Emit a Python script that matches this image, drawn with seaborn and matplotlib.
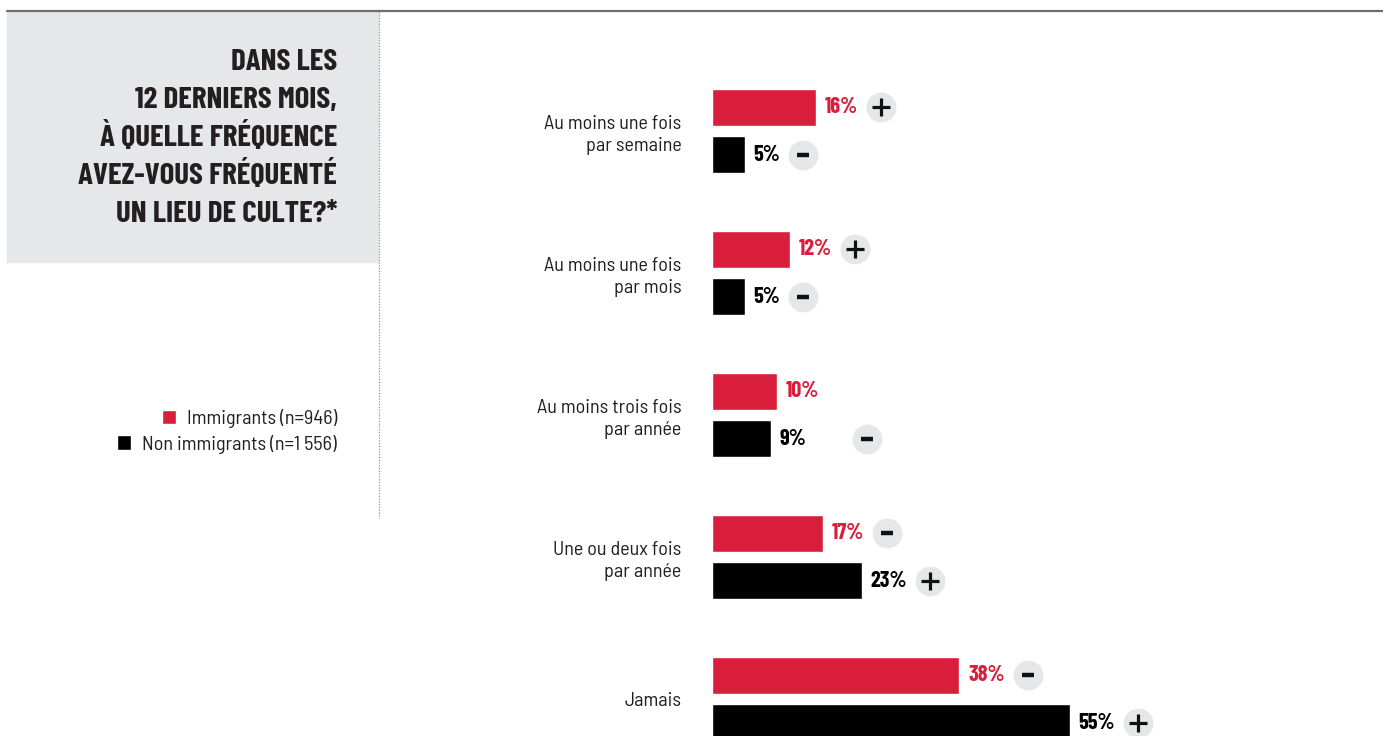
import matplotlib
matplotlib.use("Agg")
import matplotlib.pyplot as plt
import pandas as pd
import seaborn as sns
from matplotlib import font_manager
from matplotlib.lines import Line2D
from matplotlib.patches import Rectangle

# Data
frequences = ["Au moins une fois\npar semaine", "Au moins une fois\npar mois",
              "Au moins trois fois\npar année", "Une ou deux fois\npar année", "Jamais"]
immigrants = [16, 12, 10, 17, 38]
non_immigrants = [5, 5, 9, 23, 55]
signes_imm = ["+", "+", "", "-", "-"]
signes_non = ["-", "-", "-", "+", "+"]
groupes = ["Immigrants (n=946)", "Non immigrants (n=1 556)"]
titre = ["DANS LES", "12 DERNIERS MOIS,", "À QUELLE FRÉQUENCE",
         "AVEZ-VOUS FRÉQUENTÉ", "UN LIEU DE CULTE?*"]

ROUGE = "#d81e3a"
NOIR = "#000000"
GRIS = "#e6e7e8"
TEXTE = "#231f20"

sns.set_theme(style="white")
noms = {f.name for f in font_manager.fontManager.ttflist}


def choisir(cands):
    return next((c for c in cands if c in noms), "DejaVu Sans")


cond = choisir(["Barlow Condensed", "Roboto Condensed", "IBM Plex Sans Condensed",
                "Open Sans Condensed"])
semi = choisir(["Barlow Semi Condensed", "Barlow Condensed", "Roboto Condensed"])
plt.rcParams["font.family"] = [semi, "DejaVu Sans"]

df = pd.DataFrame({
    "Fréquence": frequences * 2,
    "Groupe": [groupes[0]] * 5 + [groupes[1]] * 5,
    "Pourcentage": immigrants + non_immigrants,
})

W, H = 1383, 736
fig = plt.figure(figsize=(W / 100, H / 100), dpi=100)
ax = fig.add_axes([712 / W, 0, 1 - 712 / W, 1])
ax.patch.set_alpha(0)

sns.barplot(data=df, y="Fréquence", x="Pourcentage", hue="Groupe", orient="h",
            palette=[ROUGE, NOIR], saturation=1, width=0.662, gap=0.21, ax=ax, legend=True)

ax.set_xlim(0, (W - 712) / 6.5)
ax.set_ylim((H - 131) / 142, -131 / 142)
sns.despine(ax=ax, left=True, bottom=True)
ax.set_xticks([])
ax.set_xlabel("")
ax.set_ylabel("")
ax.tick_params(axis="y", length=0, pad=22)
for t in ax.get_yticklabels():
    t.set_fontsize(14.5)
    t.set_ha("right")
    t.set_color(TEXTE)
    t.set_linespacing(1.3)

# Value labels
textes = []
for cont, vals, col in zip(ax.containers, [immigrants, non_immigrants], [ROUGE, NOIR]):
    lbls = ax.bar_label(cont, labels=[f"{v}%" for v in vals], padding=6.5,
                        fontsize=16, fontweight="bold", color=col, family=cond)
    textes.append(lbls)

# Legend (one entry per row, right-aligned on the text)
handles, labels = ax.get_legend_handles_labels()
ax.get_legend().remove()
for h, l, yl in zip(handles, labels, [419, 444]):
    fig.legend([h], [l], loc="center right", bbox_to_anchor=(337 / W, 1 - yl / H),
               frameon=False, fontsize=14.5, handlelength=0.7, handleheight=0.7,
               handletextpad=0.55, borderpad=0, borderaxespad=0, labelcolor=TEXTE)

# Significance circles
fig.canvas.draw()
rend = fig.canvas.get_renderer()
extra = {(1, 2): 38}
for k, (cont, signes) in enumerate(zip(ax.containers, [signes_imm, signes_non])):
    for i, (bar, s) in enumerate(zip(cont, signes)):
        if not s:
            continue
        bb = textes[k][i].get_window_extent(rend)
        yc = ax.transData.transform((0, bar.get_y() + bar.get_height() / 2))[1]
        xc = bb.x1 + 23 + extra.get((k, i), 0)
        xd, yd = ax.transData.inverted().transform((xc, yc))
        ax.plot([xd], [yd], marker="o", markersize=20.5, color=GRIS, clip_on=False)
        if s == "+":
            ax.plot([xd], [yd], marker="+", markersize=12.5, markeredgewidth=2.3,
                    color="#111111", clip_on=False)
        else:
            ax.plot([xd], [yd], marker="_", markersize=8.5, markeredgewidth=3.2,
                    color="#111111", clip_on=False)

# Title panel
fig.patches.append(Rectangle((7 / W, 1 - 262 / H), (378 - 7) / W, (262 - 12) / H,
                             transform=fig.transFigure, color=GRIS, zorder=0))
fig.add_artist(Line2D([7 / W, 1], [1 - 11 / H] * 2, color="#6d6e71", lw=1.6))
fig.add_artist(Line2D([379 / W] * 2, [1 - 12 / H, 1 - 518 / H], color="#808080",
                      lw=0.8, linestyle=(0, (1, 1.5))))
for j, ligne in enumerate(titre):
    fig.text(337 / W, 1 - (70 + 38 * j) / H, ligne, ha="right", va="baseline",
             fontsize=22.3, fontweight="bold", color=TEXTE, family=[cond, "DejaVu Sans"])

fig.savefig("out.png", dpi=100)
